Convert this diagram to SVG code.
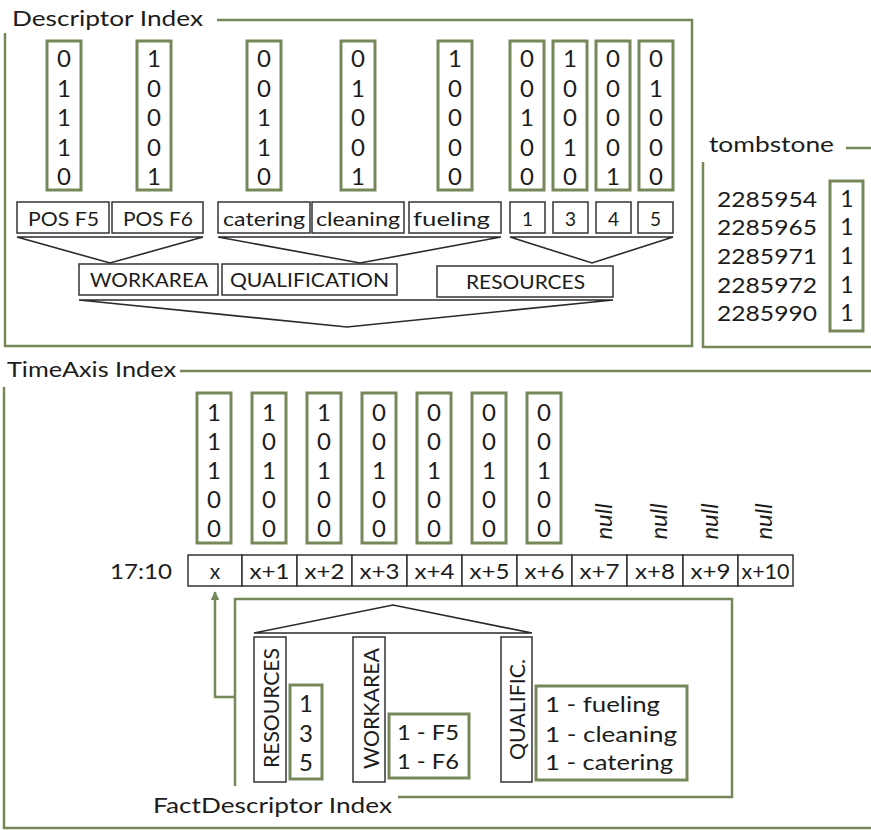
<svg xmlns="http://www.w3.org/2000/svg" width="871" height="830" viewBox="0 0 871 830">
<defs>
<style>
.g{fill:none;stroke:#76885a;stroke-width:3}
.f{fill:none;stroke:#76885a;stroke-width:2.5}
.b{fill:#fff;stroke:#333;stroke-width:1.5}
.l{fill:none;stroke:#2a2a2a;stroke-width:1.6}
text{font-family:Lato,"Open Sans","Liberation Sans",sans-serif;fill:#1c1c1c}
.d{font-size:24px;text-anchor:middle}
.t{font-size:23px;text-anchor:middle}
.s{font-size:19px}
.m{font-size:20px}
.h{font-size:21px}
.n{font-size:22px}
.c{text-anchor:middle}
.i{font-style:italic;font-size:24px;text-anchor:middle}
</style>
<marker id="ah" viewBox="0 0 10 10" refX="9" refY="5" markerWidth="3.5" markerHeight="3.5" orient="auto"><path d="M0,0 L10,5 L0,10 z" fill="#76885a"/></marker>
</defs>
<rect width="871" height="830" fill="#fff"/>

<g id="descriptor-index-frame">
<path class="f" d="M217,20 H692 V346 H5 V33"/>
<text class="h" x="12" y="26" textLength="191" lengthAdjust="spacingAndGlyphs">Descriptor Index</text>
</g>

<g id="desc-bits">
<rect class="g" x="47" y="41" width="34" height="149"/>
<rect class="g" x="137" y="41" width="34" height="149"/>
<rect class="g" x="247" y="41" width="34" height="149"/>
<rect class="g" x="341" y="41" width="34" height="149"/>
<rect class="g" x="438" y="41" width="34" height="149"/>
<rect class="g" x="510" y="41" width="34" height="149"/>
<rect class="g" x="553" y="41" width="34" height="149"/>
<rect class="g" x="596" y="41" width="34" height="149"/>
<rect class="g" x="639" y="41" width="34" height="149"/>
<text class="d"><tspan x="64" y="67">0</tspan><tspan x="64" y="96.5">1</tspan><tspan x="64" y="126">1</tspan><tspan x="64" y="155.5">1</tspan><tspan x="64" y="185">0</tspan></text>
<text class="d"><tspan x="154" y="67">1</tspan><tspan x="154" y="96.5">0</tspan><tspan x="154" y="126">0</tspan><tspan x="154" y="155.5">0</tspan><tspan x="154" y="185">1</tspan></text>
<text class="d"><tspan x="264" y="67">0</tspan><tspan x="264" y="96.5">0</tspan><tspan x="264" y="126">1</tspan><tspan x="264" y="155.5">1</tspan><tspan x="264" y="185">0</tspan></text>
<text class="d"><tspan x="358" y="67">0</tspan><tspan x="358" y="96.5">1</tspan><tspan x="358" y="126">0</tspan><tspan x="358" y="155.5">0</tspan><tspan x="358" y="185">1</tspan></text>
<text class="d"><tspan x="455" y="67">1</tspan><tspan x="455" y="96.5">0</tspan><tspan x="455" y="126">0</tspan><tspan x="455" y="155.5">0</tspan><tspan x="455" y="185">0</tspan></text>
<text class="d"><tspan x="527" y="67">0</tspan><tspan x="527" y="96.5">0</tspan><tspan x="527" y="126">1</tspan><tspan x="527" y="155.5">0</tspan><tspan x="527" y="185">0</tspan></text>
<text class="d"><tspan x="570" y="67">1</tspan><tspan x="570" y="96.5">0</tspan><tspan x="570" y="126">0</tspan><tspan x="570" y="155.5">1</tspan><tspan x="570" y="185">0</tspan></text>
<text class="d"><tspan x="613" y="67">0</tspan><tspan x="613" y="96.5">0</tspan><tspan x="613" y="126">0</tspan><tspan x="613" y="155.5">0</tspan><tspan x="613" y="185">1</tspan></text>
<text class="d"><tspan x="656" y="67">0</tspan><tspan x="656" y="96.5">1</tspan><tspan x="656" y="126">0</tspan><tspan x="656" y="155.5">0</tspan><tspan x="656" y="185">0</tspan></text>
</g>

<g id="node-pos-f5"><rect class="b" x="17" y="202" width="92" height="31"/><text class="s" x="28" y="226" textLength="71" lengthAdjust="spacingAndGlyphs">POS F5</text></g>
<g id="node-pos-f6"><rect class="b" x="112" y="202" width="91" height="31"/><text class="s" x="123" y="226" textLength="70" lengthAdjust="spacingAndGlyphs">POS F6</text></g>
<g id="node-catering"><rect class="b" x="218" y="202" width="92" height="31"/><text class="s" x="223" y="226" textLength="82" lengthAdjust="spacingAndGlyphs">catering</text></g>
<g id="node-cleaning"><rect class="b" x="312" y="202" width="92" height="31"/><text class="s" x="316" y="226" textLength="84" lengthAdjust="spacingAndGlyphs">cleaning</text></g>
<g id="node-fueling"><rect class="b" x="409" y="202" width="92" height="31"/><text class="s" x="413" y="226" textLength="77" lengthAdjust="spacingAndGlyphs">fueling</text></g>
<g id="node-r1"><rect class="b" x="510" y="202" width="35" height="31"/><text class="s c" x="527.5" y="226">1</text></g>
<g id="node-r3"><rect class="b" x="553" y="202" width="35" height="31"/><text class="s c" x="570.5" y="226">3</text></g>
<g id="node-r4"><rect class="b" x="596" y="202" width="35" height="31"/><text class="s c" x="613.5" y="226">4</text></g>
<g id="node-r5"><rect class="b" x="638" y="202" width="35" height="31"/><text class="s c" x="655.5" y="226">5</text></g>

<g id="node-workarea"><rect class="b" x="79" y="264" width="139" height="31"/><text class="m" x="90" y="287" textLength="118" lengthAdjust="spacingAndGlyphs">WORKAREA</text></g>
<g id="node-qualification"><rect class="b" x="222" y="264" width="175" height="31"/><text class="m" x="230" y="287" textLength="159" lengthAdjust="spacingAndGlyphs">QUALIFICATION</text></g>
<g id="node-resources"><rect class="b" x="437" y="266" width="176" height="31"/><text class="m" x="466" y="289" textLength="119" lengthAdjust="spacingAndGlyphs">RESOURCES</text></g>

<g id="tombstone">
<path class="f" d="M846,148 H871 M703,162 V347 H871"/>
<text class="n" x="709" y="152" textLength="125" lengthAdjust="spacingAndGlyphs">tombstone</text>
<rect class="g" x="830" y="181" width="33" height="150"/>
<text class="n" x="717" textLength="100" lengthAdjust="spacingAndGlyphs" y="206.5">2285954</text>
<text class="n" x="717" textLength="100" lengthAdjust="spacingAndGlyphs" y="235">2285965</text>
<text class="n" x="717" textLength="100" lengthAdjust="spacingAndGlyphs" y="264">2285971</text>
<text class="n" x="717" textLength="100" lengthAdjust="spacingAndGlyphs" y="292.5">2285972</text>
<text class="n" x="717" textLength="100" lengthAdjust="spacingAndGlyphs" y="321">2285990</text>
<text class="t"><tspan x="847" y="206.5">1</tspan><tspan x="847" y="235">1</tspan><tspan x="847" y="264">1</tspan><tspan x="847" y="292.5">1</tspan><tspan x="847" y="321">1</tspan></text>
</g>

<g id="timeaxis-index-frame">
<path class="f" d="M180,371 H871 M4,387 V828 H871"/>
<text class="h" x="7" y="377" textLength="169" lengthAdjust="spacingAndGlyphs">TimeAxis Index</text>
</g>

<g id="time-bits">
<rect class="g" x="197" y="393" width="34" height="150"/>
<rect class="g" x="252" y="393" width="34" height="150"/>
<rect class="g" x="307" y="393" width="34" height="150"/>
<rect class="g" x="362" y="393" width="34" height="150"/>
<rect class="g" x="417" y="393" width="34" height="150"/>
<rect class="g" x="472" y="393" width="34" height="150"/>
<rect class="g" x="527" y="393" width="34" height="150"/>
<text class="d"><tspan x="214" y="420.5">1</tspan><tspan x="214" y="449.5">1</tspan><tspan x="214" y="478.5">1</tspan><tspan x="214" y="507.5">0</tspan><tspan x="214" y="536.5">0</tspan></text>
<text class="d"><tspan x="269" y="420.5">1</tspan><tspan x="269" y="449.5">0</tspan><tspan x="269" y="478.5">1</tspan><tspan x="269" y="507.5">0</tspan><tspan x="269" y="536.5">0</tspan></text>
<text class="d"><tspan x="324" y="420.5">1</tspan><tspan x="324" y="449.5">0</tspan><tspan x="324" y="478.5">1</tspan><tspan x="324" y="507.5">0</tspan><tspan x="324" y="536.5">0</tspan></text>
<text class="d"><tspan x="379" y="420.5">0</tspan><tspan x="379" y="449.5">0</tspan><tspan x="379" y="478.5">1</tspan><tspan x="379" y="507.5">0</tspan><tspan x="379" y="536.5">0</tspan></text>
<text class="d"><tspan x="434" y="420.5">0</tspan><tspan x="434" y="449.5">0</tspan><tspan x="434" y="478.5">1</tspan><tspan x="434" y="507.5">0</tspan><tspan x="434" y="536.5">0</tspan></text>
<text class="d"><tspan x="489" y="420.5">0</tspan><tspan x="489" y="449.5">0</tspan><tspan x="489" y="478.5">1</tspan><tspan x="489" y="507.5">0</tspan><tspan x="489" y="536.5">0</tspan></text>
<text class="d"><tspan x="544" y="420.5">0</tspan><tspan x="544" y="449.5">0</tspan><tspan x="544" y="478.5">1</tspan><tspan x="544" y="507.5">0</tspan><tspan x="544" y="536.5">0</tspan></text>
<text class="i" transform="translate(612,521.5) rotate(-90)">null</text>
<text class="i" transform="translate(667,521.5) rotate(-90)">null</text>
<text class="i" transform="translate(718,521.5) rotate(-90)">null</text>
<text class="i" transform="translate(772,521.5) rotate(-90)">null</text>
</g>

<g id="time-axis">
<text class="n" x="110" y="579" textLength="62" lengthAdjust="spacingAndGlyphs">17:10</text>
<rect class="b" x="188" y="555" width="54" height="31"/>
<rect class="b" x="242" y="555" width="55" height="31"/>
<rect class="b" x="297" y="555" width="55" height="31"/>
<rect class="b" x="352" y="555" width="55" height="31"/>
<rect class="b" x="407" y="555" width="55" height="31"/>
<rect class="b" x="462" y="555" width="55" height="31"/>
<rect class="b" x="517" y="555" width="55" height="31"/>
<rect class="b" x="572" y="555" width="55" height="31"/>
<rect class="b" x="627" y="555" width="56" height="31"/>
<rect class="b" x="683" y="555" width="55" height="31"/>
<rect class="b" x="738" y="555" width="55" height="31"/>
<text class="h c" x="215" y="579">x</text>
<text class="h c" x="269.5" y="579" textLength="40" lengthAdjust="spacingAndGlyphs">x+1</text>
<text class="h c" x="324.5" y="579" textLength="40" lengthAdjust="spacingAndGlyphs">x+2</text>
<text class="h c" x="379.5" y="579" textLength="40" lengthAdjust="spacingAndGlyphs">x+3</text>
<text class="h c" x="434.5" y="579" textLength="40" lengthAdjust="spacingAndGlyphs">x+4</text>
<text class="h c" x="489.5" y="579" textLength="40" lengthAdjust="spacingAndGlyphs">x+5</text>
<text class="h c" x="544.5" y="579" textLength="40" lengthAdjust="spacingAndGlyphs">x+6</text>
<text class="h c" x="599.5" y="579" textLength="40" lengthAdjust="spacingAndGlyphs">x+7</text>
<text class="h c" x="655" y="579" textLength="40" lengthAdjust="spacingAndGlyphs">x+8</text>
<text class="h c" x="710.5" y="579" textLength="40" lengthAdjust="spacingAndGlyphs">x+9</text>
<text class="h c" x="765.5" y="579" textLength="48" lengthAdjust="spacingAndGlyphs">x+10</text>
</g>

<g id="factdescriptor-index-frame">
<path class="f" d="M235,786 V599 H732 V797 H398"/>
<text class="h" x="153" y="813" textLength="239" lengthAdjust="spacingAndGlyphs">FactDescriptor Index</text>
</g>

<g id="fd-resources"><rect class="b" x="254" y="637" width="32" height="145"/><text class="h c" transform="translate(279,708) rotate(-90)" textLength="120" lengthAdjust="spacingAndGlyphs">RESOURCES</text></g>
<g id="fd-workarea"><rect class="b" x="353" y="637" width="32" height="145"/><text class="h c" transform="translate(379,708.5) rotate(-90)" textLength="121" lengthAdjust="spacingAndGlyphs">WORKAREA</text></g>
<g id="fd-qualific"><rect class="b" x="501" y="637" width="31" height="145"/><text class="h c" transform="translate(525,709.5) rotate(-90)" textLength="101" lengthAdjust="spacingAndGlyphs">QUALIFIC.</text></g>

<g id="fd-res-values"><rect class="g" x="290" y="685" width="32" height="94"/><text class="d"><tspan x="306" y="712">1</tspan><tspan x="306" y="742">3</tspan><tspan x="306" y="771">5</tspan></text></g>
<g id="fd-wa-values"><rect class="g" x="389" y="714" width="80" height="64"/>
<text class="n" x="397" y="740" textLength="62" lengthAdjust="spacingAndGlyphs">1 - F5</text>
<text class="n" x="397" y="769" textLength="62" lengthAdjust="spacingAndGlyphs">1 - F6</text></g>
<g id="fd-q-values"><rect class="g" x="536" y="686" width="151" height="94"/>
<text class="n" x="545" y="712" textLength="115" lengthAdjust="spacingAndGlyphs">1 - fueling</text>
<text class="n" x="545" y="742" textLength="132" lengthAdjust="spacingAndGlyphs">1 - cleaning</text>
<text class="n" x="545" y="770" textLength="128" lengthAdjust="spacingAndGlyphs">1 - catering</text></g>

<g id="connectors">
<polygon class="l" points="17,237 203,237 110,263"/>
<polygon class="l" points="218,237 501,237 360,263"/>
<polygon class="l" points="510,237 673,237 592,263"/>
<polygon class="l" points="79,300 613,300 347,327"/>
<polygon class="l" points="254,633 532,633 393,605"/>
<path d="M235,697 H215 V592" fill="none" stroke="#76885a" stroke-width="2.5" marker-end="url(#ah)"/>
</g>
</svg>
